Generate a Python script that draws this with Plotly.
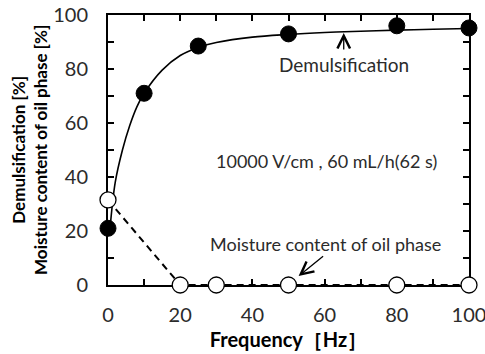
import plotly.graph_objects as go

# Data
freq = [0, 10, 25, 50, 80, 100]
demuls = [21, 71, 88.5, 93, 96, 95.2]

moist_freq = [0, 20, 30, 50, 80, 100]
moisture = [31.5, 0, 0, 0, 0, 0]

# Fitted trend curve
curve_x = [0.5, 2, 4, 6, 8, 10, 15, 20, 25, 30, 40, 50, 60, 70, 80, 90, 100]
curve_y = [20, 38, 50, 59, 66, 71, 79.6, 85, 88, 89.8, 91.8, 92.8, 93.5, 94, 94.4, 94.7, 95]

tick_vals = list(range(0, 101, 10))
tick_text = [str(v) if v % 20 == 0 else "" for v in tick_vals]

FONT = "Lato"
TXT = "#2b2b2b"

fig = go.Figure()

# dashed moisture line
fig.add_trace(go.Scatter(x=moist_freq, y=moisture, mode="lines",
                         line=dict(color="black", width=2, dash="7px,5px"),
                         cliponaxis=False, hoverinfo="skip", showlegend=False))
# demulsification fitted curve
fig.add_trace(go.Scatter(x=curve_x, y=curve_y, mode="lines", line_shape="spline",
                         line=dict(color="black", width=1.6),
                         cliponaxis=False, showlegend=False))
# markers
fig.add_trace(go.Scatter(x=moist_freq, y=moisture, mode="markers",
                         marker=dict(size=16, color="white", line=dict(color="black", width=1.3)),
                         cliponaxis=False, showlegend=False))
fig.add_trace(go.Scatter(x=freq, y=demuls, mode="markers",
                         marker=dict(size=16, color="black", line=dict(color="black", width=1)),
                         cliponaxis=False, showlegend=False))

axis_common = dict(range=[0, 100], tickvals=tick_vals, ticktext=tick_text,
                   ticks="inside", ticklen=6, tickwidth=1.5, tickcolor="black",
                   showline=True, linecolor="black", linewidth=2, mirror="ticks",
                   showgrid=False, zeroline=False, automargin=False, layer="below traces",
                   ticklabeloverflow="allow",
                   tickfont=dict(family=FONT, size=20, color=TXT))

fig.update_xaxes(**axis_common, ticklabelstandoff=11,
                 title=dict(text="<b>Frequency［Hz］</b>",
                            font=dict(family=FONT, size=20, color="black"), standoff=8))
fig.update_yaxes(**axis_common, ticklabelstandoff=14)

annos = [
    dict(x=-0.219, y=0.5, xref="paper", yref="paper", textangle=-90,
         xanchor="center", yanchor="middle",
         text="<b>Demulsification [%]</b><br><b>Moisture content of oil phase [%]</b>",
         showarrow=False, font=dict(family=FONT, size=17, color="black")),
    dict(x=65.3, y=81.5, xref="x", yref="y", text="Demulsification", showarrow=False,
         font=dict(family=FONT, size=19, color=TXT), xanchor="center", yanchor="middle"),
    dict(x=60.4, y=46, xref="x", yref="y", text="10000 V/cm , 60 mL/h(62 s)", showarrow=False,
         font=dict(family=FONT, size=18, color=TXT)),
    dict(x=60.3, y=15.2, xref="x", yref="y", text="Moisture content of oil phase", showarrow=False,
         font=dict(family=FONT, size=18, color=TXT)),
    dict(x=65.3, y=93.3, ax=65.3, ay=86.7, xref="x", yref="y", axref="x", ayref="y",
         text="", showarrow=True, arrowhead=5, arrowsize=1.9, arrowwidth=1.3, arrowcolor="black"),
    dict(x=52.8, y=3.3, ax=60.0, ay=11.1, xref="x", yref="y", axref="x", ayref="y",
         text="", showarrow=True, arrowhead=5, arrowsize=1.9, arrowwidth=1.3, arrowcolor="black"),
]

fig.update_layout(width=485, height=354, margin=dict(l=108, r=16, t=15, b=69),
                  paper_bgcolor="white", plot_bgcolor="white", annotations=annos,
                  font=dict(family=FONT))

fig.write_html("out.html")
